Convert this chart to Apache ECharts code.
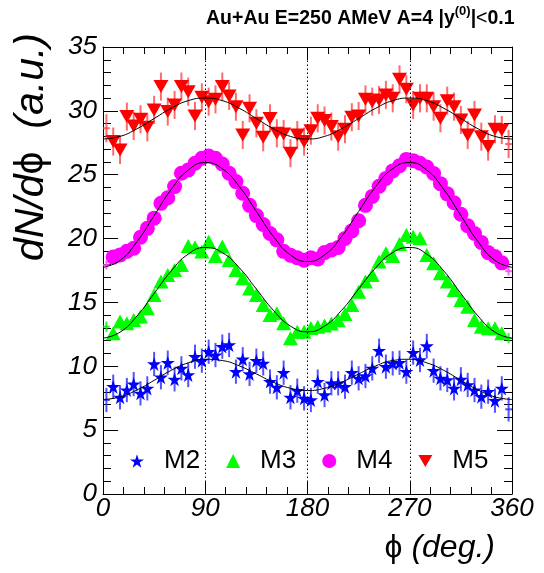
<!DOCTYPE html>
<html>
<head>
<meta charset="utf-8">
<script src="https://cdn.jsdelivr.net/npm/echarts@6/dist/echarts.min.js"></script>
<style>
  html, body { margin: 0; padding: 0; background: #fff; }
  #chart { width: 544px; height: 573px; }
</style>
</head>
<body>
<div id="chart"></div>
<script>
// Azimuthal bin centres (deg), 6-degree bins
const phi = [3, 9, 15, 21, 27, 33, 39, 45, 51, 57, 63, 69, 75, 81, 87, 93, 99, 105, 111, 117,
  123, 129, 135, 141, 147, 153, 159, 165, 171, 177, 183, 189, 195, 201, 207, 213, 219, 225, 231, 237,
  243, 249, 255, 261, 267, 273, 279, 285, 291, 297, 303, 309, 315, 321, 327, 333, 339, 345, 351, 357];

// dN/dphi per multiplicity class (a.u.)
const m2 = [7.36, 8.4, 7.57, 8.14, 8.61, 7.88, 8.27, 10.18, 9.14, 10.28, 8.98, 9.84, 9.32, 10.75, 10.44,
  11.14, 10.88, 11.54, 11.67, 9.58, 10.55, 9.4, 10.44, 10.23, 8.8, 8.35, 9.5, 7.57, 8.09, 7.49,
  7.36, 8.8, 7.75, 8.67, 8.67, 8.4, 9.5, 9.06, 9.24, 9.84, 11.22, 9.97, 10.23, 10.28, 9.58,
  11.07, 10.49, 11.59, 9.66, 9.06, 8.93, 8.27, 8.98, 8.54, 8.14, 7.62, 8.01, 7.31, 8.27, 6.63];
const m3 = [13.1, 12.58, 13.5, 13.36, 13.63, 13.89, 14.54, 15.58, 16.63, 17.15, 17.54, 17.93, 19.42, 19.32, 18.98,
  19.76, 18.64, 19.37, 18.32, 17.54, 16.89, 16.1, 15.58, 14.8, 14.02, 14.15, 13.36, 12.19, 12.71, 12.71,
  13.0, 13.1, 13.2, 13.35, 13.6, 14.1, 14.8, 15.84, 16.63, 17.15, 18.2, 18.85, 18.64, 19.58, 20.28,
  20.15, 20.02, 18.72, 18.07, 17.28, 16.63, 15.97, 15.19, 14.67, 13.63, 13.1, 12.97, 12.97, 12.58, 12.2];
const m4 = [17.93, 18.55, 18.72, 19.0, 19.24, 20.1, 20.8, 21.6, 22.76, 23.2, 24.07, 25.11, 25.37, 25.9, 26.29,
  26.47, 26.29, 25.84, 25.11, 24.46, 23.55, 22.6, 21.8, 21.1, 20.4, 19.9, 19.0, 18.7, 18.5, 18.3,
  18.5, 18.4, 18.9, 19.1, 19.3, 20.0, 20.6, 21.4, 22.6, 23.3, 24.1, 24.7, 25.3, 25.7, 26.2,
  26.1, 25.9, 25.6, 25.1, 24.3, 23.5, 22.8, 21.9, 21.0, 20.4, 19.7, 18.9, 18.6, 18.1, 17.45];
const m5 = [28.64, 27.6, 26.94, 29.55, 28.82, 29.34, 28.71, 30.07, 31.9, 29.94, 30.46, 31.9, 31.5, 29.6, 31.06,
  30.72, 30.9, 31.9, 31.17, 30.33, 28.11, 30.2, 29.03, 27.93, 29.41, 28.24, 28.19, 26.68, 28.11, 27.6,
  28.45, 29.42, 29.24, 28.77, 27.98, 28.56, 29.5, 29.6, 30.9, 30.72, 30.85, 31.25, 30.98, 32.47, 31.69,
  30.46, 30.98, 30.98, 30.33, 29.42, 30.8, 30.33, 29.29, 28.11, 29.68, 27.98, 27.2, 28.56, 28.5, 27.4];

// Statistical error per class, and half bin width (deg)
const seriesNames = ['M2', 'M3', 'M4', 'M5'];
const errors = [0.95, 0.4, 0.35, 1.1];
const halfBin = 3;

// Fit curves sampled every 15 deg
const fitPhi = [0, 15, 30, 45, 60, 75, 90, 105, 120, 135, 150, 165, 180,
  195, 210, 225, 240, 255, 270, 285, 300, 315, 330, 345, 360];
const fitM2 = [7.4, 7.6, 8.15, 8.9, 9.68, 10.27, 10.55, 10.45, 10.03, 9.4, 8.75, 8.28, 8.1,
  8.28, 8.75, 9.4, 10.03, 10.45, 10.55, 10.27, 9.68, 8.9, 8.15, 7.6, 7.4];
const fitM3 = [12.2, 12.67, 13.95, 15.7, 17.46, 18.78, 19.3, 18.9, 17.71, 16.05, 14.38, 13.15, 12.7,
  13.15, 14.38, 16.05, 17.71, 18.9, 19.3, 18.78, 17.46, 15.7, 13.95, 12.67, 12.2];
const fitM4 = [17.75, 18.29, 19.77, 21.8, 23.84, 25.36, 25.95, 25.47, 24.07, 22.12, 20.16, 18.72, 18.2,
  18.72, 20.16, 22.12, 24.07, 25.47, 25.95, 25.36, 23.84, 21.8, 19.77, 18.29, 17.75];
const fitM5 = [27.8, 28.0, 28.6, 29.4, 30.2, 30.8, 31.0, 30.8, 30.2, 29.4, 28.6, 28.0, 27.8,
  28.0, 28.6, 29.4, 30.2, 30.8, 31.0, 30.8, 30.2, 29.4, 28.6, 28.0, 27.8];

// Axis ticks and reaction-plane reference angles
const xTicks = [0, 90, 180, 270, 360];
const yTicks = [0, 5, 10, 15, 20, 25, 30, 35];
const guideAngles = [90, 180, 270];

const FONT = '"Liberation Sans", Arial, Helvetica, sans-serif';
const values = [m2, m3, m4, m5];
const fits = [fitM2, fitM3, fitM4, fitM5];
const colors = ['#0000ff', '#00ff00', '#ff00ff', '#ff0000'];
const barColors = ['rgba(40,40,255,0.8)', 'rgba(0,230,0,0.8)', 'rgba(255,60,255,0.8)', 'rgba(255,70,70,0.8)'];
const symbols = [
  'path://M50,2 L61.8,38.2 L99.9,38.2 L69.1,60.6 L80.9,96.8 L50,74.4 L19.1,96.8 L30.9,60.6 L0.1,38.2 L38.2,38.2 Z',
  'triangle',
  'circle',
  'path://M0,0 L100,0 L50,87 Z'
];
const symbolSizes = [[14, 14], [15, 14], 15, [15, 13]];

function xAxisDef(pos, showLabel) {
  return {
    type: 'value', position: pos,
    min: xTicks[0], max: xTicks[xTicks.length - 1], interval: xTicks[1] - xTicks[0],
    axisLine: { show: true, onZero: false, lineStyle: { color: '#000', width: 1 } },
    axisTick: { show: true, inside: true, length: 13, lineStyle: { color: '#000' } },
    minorTick: { show: true, splitNumber: 5, length: 7, lineStyle: { color: '#000' } },
    splitLine: { show: false },
    axisLabel: {
      show: showLabel, color: '#000', fontFamily: FONT, fontStyle: 'italic',
      fontSize: 26, margin: 2
    }
  };
}
function yAxisDef(pos, showLabel) {
  return {
    type: 'value', position: pos,
    min: yTicks[0], max: yTicks[yTicks.length - 1], interval: yTicks[1] - yTicks[0],
    axisLine: { show: true, onZero: false, lineStyle: { color: '#000', width: 1 } },
    axisTick: { show: true, inside: true, length: 15, lineStyle: { color: '#000' } },
    minorTick: { show: true, splitNumber: 5, length: 8, lineStyle: { color: '#000' } },
    splitLine: { show: false },
    axisLabel: {
      show: showLabel, color: '#000', fontFamily: FONT, fontStyle: 'italic',
      fontSize: 26, margin: 6
    }
  };
}

const series = [];
seriesNames.forEach(function (name, k) {
  // error bars
  series.push({
    name: name + ' err',
    type: 'custom',
    xAxisIndex: 0, yAxisIndex: 0,
    z: 2,
    silent: true,
    data: phi.map(function (p, i) { return [p, values[k][i], errors[k]]; }),
    renderItem: function (params, api) {
      const x = api.value(0), y = api.value(1), e = api.value(2);
      const top = api.coord([x, y + e]);
      const bot = api.coord([x, y - e]);
      const l = api.coord([x - halfBin, y]);
      const r = api.coord([x + halfBin, y]);
      const st = { stroke: barColors[k], lineWidth: 2 };
      return {
        type: 'group',
        children: [
          { type: 'line', shape: { x1: top[0], y1: top[1], x2: bot[0], y2: bot[1] }, style: st },
          { type: 'line', shape: { x1: l[0], y1: l[1], x2: r[0], y2: r[1] }, style: st }
        ]
      };
    }
  });
  // markers (markers straddling the frame are not drawn)
  series.push({
    name: name,
    type: 'scatter',
    xAxisIndex: 0, yAxisIndex: 0,
    z: 3,
    symbol: symbols[k],
    symbolSize: function (val) {
      return (val[0] < halfBin * 2 || val[0] > xTicks[xTicks.length - 1] - halfBin * 2) ? 0 : symbolSizes[k];
    },
    itemStyle: { color: colors[k], opacity: 1 },
    data: phi.map(function (p, i) { return [p, values[k][i]]; })
  });
});
seriesNames.forEach(function (name, k) {
  const s = {
    name: name + ' fit',
    type: 'line',
    xAxisIndex: 0, yAxisIndex: 0,
    z: 5,
    smooth: true,
    showSymbol: false,
    silent: true,
    lineStyle: { color: '#000', width: 1 },
    data: fitPhi.map(function (p, i) { return [p, fits[k][i]]; })
  };
  if (k === 0) {
    s.markLine = {
      silent: true,
      symbol: ['none', 'none'],
      label: { show: false },
      lineStyle: { color: '#000', width: 1, type: [1.5, 2.5] },
      data: guideAngles.map(function (a) { return { xAxis: a }; })
    };
  }
  series.push(s);
});

const option = {
  animation: false,
  backgroundColor: '#fff',
  grid: { left: 103, right: 32, top: 47, bottom: 79, outerBoundsMode: 'none' },
  xAxis: [xAxisDef('bottom', true), xAxisDef('top', false)],
  yAxis: [yAxisDef('left', true), yAxisDef('right', false)],
  legend: {
    data: seriesNames,
    left: 125, top: 442,
    orient: 'horizontal',
    itemWidth: 14, itemHeight: 14,
    itemGap: 26,
    selectedMode: false,
    textStyle: { fontFamily: FONT, fontSize: 26, color: '#000', padding: [0, 0, 0, 15], lineHeight: 28 }
  },
  graphic: [
    {
      type: 'text', left: 206, top: 5,
      style: {
        text: '{b|Au+Au E=250 AMeV A=4 |y}{s|(0)}{b||}{n|<}{b|0.1}',
        rich: {
          b: { fontFamily: FONT, fontWeight: 'bold', fontSize: 19.5, fill: '#000', verticalAlign: 'bottom', lineHeight: 24 },
          s: { fontFamily: FONT, fontWeight: 'bold', fontSize: 13, fill: '#000', verticalAlign: 'top', lineHeight: 24, padding: [0, 0, 8, 0] },
          n: { fontFamily: FONT, fontSize: 19.5, fill: '#000', verticalAlign: 'bottom', lineHeight: 24 }
        }
      }
    },
    {
      type: 'text', x: 495, y: 548,
      style: {
        text: '{p|\u03D5}{t| (deg.)}',
        align: 'right', verticalAlign: 'middle',
        rich: {
          p: { fontFamily: FONT, fontSize: 32, fill: '#000' },
          t: { fontFamily: FONT, fontStyle: 'italic', fontSize: 32, fill: '#000' }
        }
      }
    },
    {
      type: 'text', x: 32, y: 33, rotation: Math.PI / 2,
      style: {
        text: '{t|dN/d}{p|\u03D5}{t|  (a.u.)}',
        align: 'right', verticalAlign: 'middle',
        rich: {
          p: { fontFamily: FONT, fontSize: 41, fill: '#000' },
          t: { fontFamily: FONT, fontStyle: 'italic', fontSize: 41, fill: '#000' }
        }
      }
    }
  ],
  series: series
};

const chart = echarts.init(document.getElementById('chart'), null, { renderer: 'canvas' });
chart.setOption(option);
</script>
</body>
</html>
